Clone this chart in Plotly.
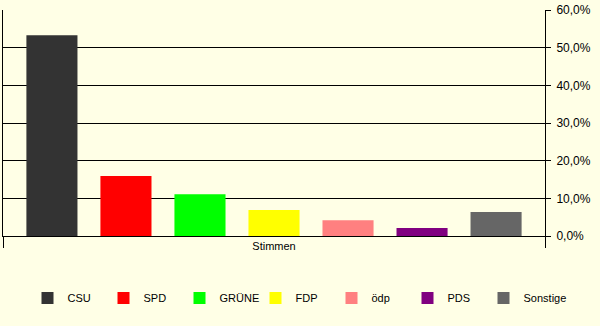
import plotly.graph_objects as go

category = ["Stimmen"]
parties = ["CSU", "SPD", "GRÜNE", "FDP", "ödp", "PDS", "Sonstige"]
values = [53.3, 15.9, 11.1, 6.9, 4.2, 2.1, 6.4]
colors = ["#333333", "#FF0000", "#00FF00", "#FFFF00", "#FF8080", "#800080", "#666666"]
y_ticks = [0, 10, 20, 30, 40, 50, 60]
y_labels = [f"{t:.1f}".replace(".", ",") + "%" for t in y_ticks]

bg = "#FFFFE6"
fig = go.Figure()
legends = {}
for i, (p, v, c) in enumerate(zip(parties, values, colors)):
    lname = "legend" if i == 0 else f"legend{i + 1}"
    fig.add_trace(go.Bar(x=category, y=[v], name=p, legend=lname,
                         marker=dict(color=c, line=dict(width=0))))
    px = 27.5 + 76 * i
    legends[lname] = dict(orientation="h", x=(px - 3) / 542, xanchor="left",
                          y=-0.274, yanchor="middle", bgcolor="rgba(0,0,0,0)",
                          font=dict(size=11), itemclick=False, itemdoubleclick=False)

fig.update_layout(
    width=600, height=326,
    margin=dict(l=3, r=55, t=10, b=90),
    paper_bgcolor=bg, plot_bgcolor=bg,
    barmode="group", bargap=0.044, bargroupgap=0.31,
    font=dict(family="Liberation Sans, Arial, sans-serif", size=11, color="#000000"),
    showlegend=True,
    xaxis=dict(type="category", tickson="boundaries", ticks="outside", ticklen=11,
               tickcolor="#000000", showline=True, linecolor="#000000", linewidth=1,
               showgrid=False, tickfont=dict(size=11)),
    yaxis=dict(side="right", range=[0, 60], tickvals=y_ticks, ticktext=y_labels,
               ticks="outside", ticklen=5, tickcolor="#000000", showline=True, mirror=True,
               linecolor="#000000", linewidth=1, showgrid=True, gridcolor="#000000", gridwidth=1,
               zeroline=False, tickfont=dict(size=12), ticklabelstandoff=3),
    **legends,
)

fig.write_html("out.html")
